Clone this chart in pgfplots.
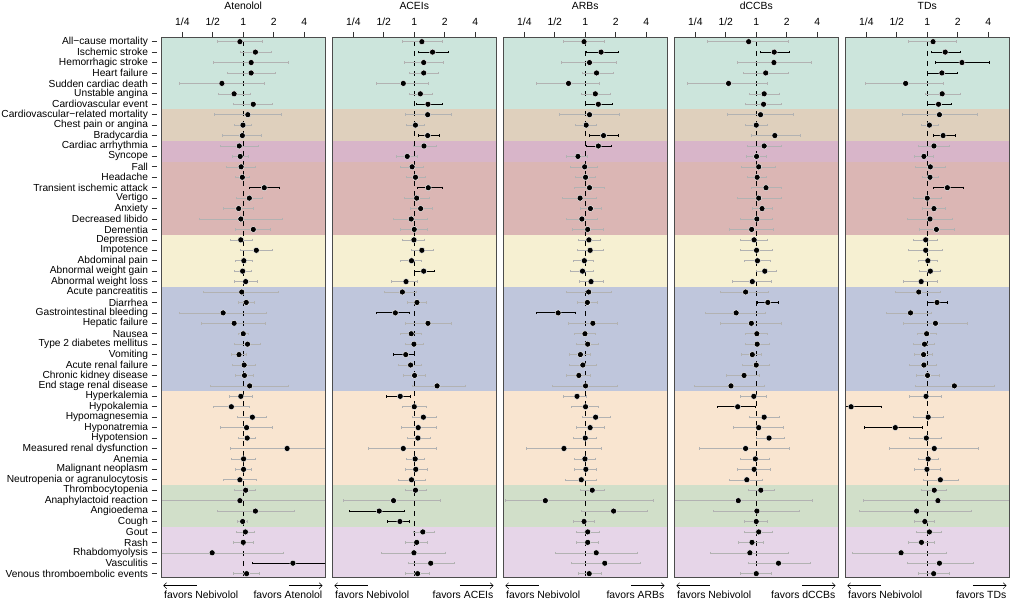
\documentclass[border=0pt]{standalone}
\usepackage{fontspec}
\setmainfont{Liberation Sans}
\usepackage{pgfplots}
\pgfplotsset{compat=1.18}
\usepackage{pgfplotstable}
\usetikzlibrary{arrows.meta}

\definecolor{bgA}{HTML}{CCE5DC}
\definecolor{bgB}{HTML}{DFD0BD}
\definecolor{bgC}{HTML}{D8B5C9}
\definecolor{bgD}{HTML}{DBB6B4}
\definecolor{bgE}{HTML}{F6F0D2}
\definecolor{bgF}{HTML}{BFC6DC}
\definecolor{bgG}{HTML}{F9E5D0}
\definecolor{bgH}{HTML}{D1DFC9}
\definecolor{bgI}{HTML}{E6D5E8}

\newcommand{\lbl}{\fontsize{10.4}{12}\selectfont}
\newcommand{\rowlbl}{\fontsize{10.2}{11}\selectfont}

% columns: row, log2 hazard ratio, lower, upper, significant
\pgfplotstableread{
r hr lo hi s
1 -0.11 -0.85 0.62 0
2 0.40 -0.11 0.91 0
3 0.26 -0.98 1.49 0
4 0.26 -0.51 1.04 0
5 -0.70 -2.11 0.68 0
6 -0.30 -0.83 0.23 0
7 0.33 -0.33 0.95 0
8 0.15 -0.96 1.25 0
9 -0.01 -0.30 0.25 0
10 -0.03 -0.68 0.58 0
11 -0.13 -0.75 0.48 0
12 -0.10 -0.37 0.15 0
13 -0.07 -0.55 0.40 0
14 -0.03 -0.26 0.19 0
15 0.69 0.20 1.18 1
16 0.20 -0.24 0.63 0
17 -0.15 -0.66 0.34 0
18 -0.08 -1.44 1.29 0
19 0.33 -0.25 0.90 0
20 -0.08 -0.43 0.28 0
21 0.43 -0.11 0.96 0
22 0.02 -0.26 0.31 0
23 -0.02 -0.31 0.26 0
24 0.08 -0.31 0.45 0
25 -0.05 -1.30 1.16 0
26 0.10 -0.17 0.35 0
27 -0.66 -2.11 0.77 0
28 -0.30 -1.37 0.73 0
29 0.00 -0.15 0.16 0
30 0.14 -0.28 0.56 0
31 -0.14 -0.40 0.11 0
32 0.03 -0.37 0.40 0
33 0.04 -0.27 0.34 0
34 0.21 -1.09 1.49 0
35 -0.08 -0.47 0.31 0
36 -0.39 -0.98 0.19 0
37 0.30 -0.20 0.77 0
38 0.11 -0.75 0.95 0
39 0.13 -0.15 0.40 0
40 1.44 -0.44 2.90 0
41 0.01 -0.39 0.40 0
42 0.01 -0.25 0.27 0
43 -0.11 -0.66 0.44 0
44 0.08 -0.31 0.40 0
45 -0.11 -2.90 2.90 0
46 0.40 -0.85 1.66 0
47 -0.02 -0.19 0.14 0
48 0.07 -0.24 0.37 0
49 0.00 -0.33 0.32 0
50 -1.02 -2.90 1.30 0
51 1.63 0.30 2.90 1
52 0.11 -0.33 0.54 0
}\tabA

\pgfplotstableread{
r hr lo hi s
1 0.25 -0.40 0.91 0
2 0.60 0.14 1.13 1
3 0.31 -0.33 0.95 0
4 0.31 -0.15 0.78 0
5 -0.36 -1.26 0.47 0
6 0.20 -0.17 0.60 0
7 0.45 0.08 0.91 1
8 0.44 -0.30 1.22 0
9 0.04 -0.25 0.34 0
10 0.44 0.13 0.83 1
11 0.32 -0.04 0.71 0
12 -0.23 -0.58 0.11 0
13 -0.07 -0.45 0.30 0
14 0.04 -0.25 0.35 0
15 0.46 0.09 0.91 1
16 0.08 -0.32 0.49 0
17 0.21 -0.12 0.58 0
18 -0.10 -0.69 0.44 0
19 0.00 -0.45 0.42 0
20 -0.01 -0.38 0.32 0
21 0.25 -0.11 0.64 0
22 -0.09 -0.45 0.23 0
23 0.31 0.01 0.67 1
24 -0.27 -0.75 0.10 0
25 -0.39 -0.97 0.08 0
26 0.09 -0.22 0.38 0
27 -0.62 -1.23 -0.15 1
28 0.45 -0.28 1.20 0
29 -0.10 -0.45 0.23 0
30 -0.01 -0.31 0.30 0
31 -0.28 -0.68 -0.01 1
32 -0.12 -0.51 0.23 0
33 0.01 -0.36 0.36 0
34 0.75 -0.05 1.69 0
35 -0.46 -0.90 -0.12 1
36 0.00 -0.40 0.38 0
37 0.30 -0.08 0.71 0
38 0.13 -0.44 0.71 0
39 0.12 -0.24 0.51 0
40 -0.36 -1.50 0.71 0
41 0.03 -0.26 0.34 0
42 0.05 -0.28 0.42 0
43 -0.09 -0.54 0.36 0
44 0.04 -0.30 0.40 0
45 -0.68 -2.32 0.87 0
46 -1.15 -2.13 -0.31 1
47 -0.47 -0.87 -0.15 1
48 0.28 -0.03 0.66 0
49 0.08 -0.28 0.42 0
50 -0.01 -1.09 1.03 0
51 0.54 -0.20 1.33 0
52 0.11 -0.30 0.50 0
}\tabC

\pgfplotstableread{
r hr lo hi s
1 -0.04 -0.73 0.61 0
2 0.52 0.04 1.08 1
3 0.14 -0.78 1.03 0
4 0.37 -0.11 0.92 0
5 -0.55 -1.62 0.45 0
6 0.33 -0.14 0.81 0
7 0.43 0.01 0.90 1
8 0.14 -0.85 1.13 0
9 0.03 -0.32 0.35 0
10 0.60 0.14 1.09 1
11 0.43 0.05 0.86 1
12 -0.24 -0.63 0.07 0
13 -0.02 -0.48 0.40 0
14 0.01 -0.33 0.34 0
15 0.14 -0.35 0.62 0
16 -0.17 -0.74 0.36 0
17 0.17 -0.15 0.51 0
18 -0.11 -0.63 0.38 0
19 0.08 -0.42 0.58 0
20 0.12 -0.24 0.50 0
21 0.16 -0.25 0.60 0
22 -0.03 -0.38 0.27 0
23 -0.09 -0.49 0.26 0
24 0.19 -0.19 0.59 0
25 0.11 -0.63 0.86 0
26 0.07 -0.27 0.40 0
27 -0.89 -1.61 -0.31 1
28 0.25 -0.57 1.05 0
29 -0.01 -0.35 0.32 0
30 0.08 -0.28 0.43 0
31 -0.16 -0.52 0.16 0
32 -0.08 -0.52 0.35 0
33 -0.21 -0.61 0.15 0
34 0.01 -1.07 1.06 0
35 -0.27 -0.71 0.02 0
36 0.01 -0.45 0.44 0
37 0.34 -0.09 0.83 0
38 0.16 -0.31 0.64 0
39 0.00 -0.38 0.35 0
40 -0.70 -1.93 0.51 0
41 -0.01 -0.36 0.32 0
42 0.02 -0.35 0.35 0
43 -0.13 -0.67 0.36 0
44 0.23 -0.17 0.64 0
45 -1.31 -2.62 2.22 0
46 0.93 -0.14 2.05 0
47 -0.04 -0.40 0.28 0
48 0.08 -0.28 0.45 0
49 0.08 -0.28 0.44 0
50 0.36 -0.98 1.71 0
51 0.64 -0.46 1.80 0
52 0.13 -0.24 0.51 0
}\tabR

\pgfplotstableread{
r hr lo hi s
1 -0.25 -1.60 1.05 0
2 0.59 0.13 1.09 1
3 0.58 -0.61 1.81 0
4 0.31 -0.42 1.05 0
5 -0.91 -2.28 0.37 0
6 0.26 -0.23 0.77 0
7 0.24 -0.35 0.83 0
8 0.14 -0.94 1.23 0
9 0.00 -0.37 0.35 0
10 0.61 -0.15 1.43 0
11 0.26 -0.28 0.81 0
12 0.01 -0.34 0.32 0
13 0.08 -0.49 0.61 0
14 0.03 -0.28 0.33 0
15 0.32 -0.17 0.82 0
16 0.08 -0.63 0.81 0
17 0.19 -0.13 0.54 0
18 0.02 -0.52 0.54 0
19 -0.15 -0.89 0.55 0
20 -0.07 -0.52 0.35 0
21 0.01 -0.52 0.52 0
22 0.04 -0.40 0.46 0
23 0.28 -0.01 0.67 0
24 -0.13 -0.78 0.48 0
25 -0.35 -1.18 0.39 0
26 0.38 0.03 0.72 1
27 -0.66 -1.68 0.30 0
28 -0.16 -1.18 0.81 0
29 0.02 -0.35 0.35 0
30 0.03 -0.37 0.42 0
31 -0.13 -0.49 0.17 0
32 0.00 -0.46 0.42 0
33 -0.40 -0.97 0.11 0
34 -0.83 -2.02 0.27 0
35 -0.08 -0.52 0.32 0
36 -0.61 -1.29 -0.04 1
37 0.26 -0.23 0.77 0
38 0.08 -0.75 0.89 0
39 0.42 0.00 0.92 0
40 -0.35 -1.86 1.08 0
41 -0.03 -0.52 0.43 0
42 -0.07 -0.63 0.46 0
43 -0.31 -0.89 0.20 0
44 0.15 -0.27 0.58 0
45 -0.59 -2.90 1.83 0
46 0.02 -1.40 1.42 0
47 0.00 -0.40 0.37 0
48 0.08 -0.39 0.54 0
49 -0.14 -0.58 0.24 0
50 -0.21 -1.50 1.04 0
51 0.73 -0.26 1.78 0
52 0.00 -0.51 0.50 0
}\tabD

\pgfplotstableread{
r hr lo hi s
1 0.19 -0.61 0.95 0
2 0.59 0.15 1.09 1
3 1.14 0.28 2.05 1
4 0.48 0.00 0.99 1
5 -0.71 -2.04 0.54 0
6 0.49 -0.05 1.07 0
7 0.37 0.02 0.78 1
8 0.40 -0.81 1.63 0
9 0.07 -0.19 0.35 0
10 0.52 0.19 0.92 1
11 0.22 -0.30 0.73 0
12 -0.11 -0.44 0.19 0
13 0.10 -0.40 0.60 0
14 0.09 -0.17 0.35 0
15 0.66 0.20 1.19 1
16 0.00 -0.47 0.45 0
17 0.22 -0.15 0.59 0
18 0.09 -0.67 0.83 0
19 0.30 -0.27 0.90 0
20 -0.05 -0.46 0.32 0
21 -0.05 -0.61 0.49 0
22 0.02 -0.30 0.34 0
23 0.10 -0.25 0.43 0
24 -0.20 -0.78 0.34 0
25 -0.28 -1.04 0.44 0
26 0.32 0.00 0.67 1
27 -0.55 -1.33 0.14 0
28 0.27 -0.78 1.30 0
29 -0.02 -0.34 0.30 0
30 -0.09 -0.45 0.23 0
31 -0.12 -0.43 0.15 0
32 -0.11 -0.58 0.31 0
33 0.01 -0.37 0.38 0
34 0.89 -0.39 2.20 0
35 -0.04 -0.58 0.46 0
36 -2.50 -2.90 -1.51 1
37 0.03 -0.47 0.51 0
38 -1.05 -2.07 -0.16 1
39 -0.03 -0.58 0.47 0
40 0.23 -1.25 1.69 0
41 0.03 -0.31 0.35 0
42 -0.01 -0.43 0.42 0
43 0.43 -0.14 1.03 0
44 0.23 -0.19 0.64 0
45 0.35 -2.09 2.90 0
46 -0.35 -2.23 1.46 0
47 -0.08 -0.42 0.23 0
48 0.07 -0.35 0.47 0
49 -0.19 -0.62 0.22 0
50 -0.86 -2.45 0.63 0
51 0.40 -0.67 1.51 0
52 0.21 -0.31 0.73 0
}\tabT

\pgfplotsset{
  panel/.style={
    scale only axis, width=164.5pt, height=540pt,
    xmin=-2.7, xmax=2.7, ymin=0.58, ymax=52.35, y dir=reverse,
    xtick={-2,-1,0,1,2}, xticklabels={1/4,1/2,1,2,4},
    xtick pos=right, xticklabel pos=right,
    ytick=\empty,
    tick align=outside, major tick length=5.5pt,
    tick style={color=black!80, line width=0.7pt},
    axis line style={color=black!70, line width=0.8pt},
    tick label style={font=\lbl},
    xticklabel style={yshift=3pt},
    axis on top, clip mode=individual,
  },
  rows/.style={
    ytick={1,...,52}, ytick pos=left,
    ytick style={xshift=-4pt},
    yticklabel style={xshift=-4pt, font=\rowlbl},
    yticklabels={All−cause mortality, Ischemic stroke, Hemorrhagic stroke,
      Heart failure, Sudden cardiac death, Unstable angina, Cardiovascular event,
      Cardiovascular−related mortality, Chest pain or angina, Bradycardia,
      Cardiac arrhythmia, Syncope, Fall, Headache, Transient ischemic attack,
      Vertigo, Anxiety, Decreased libido, Dementia, Depression, Impotence,
      Abdominal pain, Abnormal weight gain, Abnormal weight loss,
      Acute pancreatitis, Diarrhea, Gastrointestinal bleeding, Hepatic failure,
      Nausea, Type 2 diabetes mellitus, Vomiting, Acute renal failure,
      Chronic kidney disease, End stage renal disease, Hyperkalemia,
      Hypokalemia, Hypomagnesemia, Hyponatremia, Hypotension,
      Measured renal dysfunction, Anemia, Malignant neoplasm,
      Neutropenia or agranulocytosis, Thrombocytopenia, Anaphylactoid reaction,
      Angioedema, Cough, Gout, Rash, Rhabdomyolysis, Vasculitis,
      Venous thromboembolic events},
  },
  ci/.style={only marks, mark=none,
    error bars/x dir=both, error bars/x explicit,
    error bars/error mark=|},
}

\newcommand{\band}[3]{\addplot[draw=none, fill=#1] coordinates {(-3,#2) (3,#2) (3,#3) (-3,#3)} -- cycle;}

\newcommand{\series}[1]{%
  \addplot[ci, restrict expr to domain={\thisrow{s}}{0:0},
    error bars/error bar style={black!30, line width=0.55pt},
    error bars/error mark options={black!30, line width=0.55pt, mark size=1.2pt}]
    table[x=hr, y=r, x error plus expr=\thisrow{hi}-\thisrow{hr},
      x error minus expr=\thisrow{hr}-\thisrow{lo}] {#1};
  \addplot[ci, restrict expr to domain={\thisrow{s}}{1:1},
    error bars/error bar style={black, line width=0.9pt},
    error bars/error mark options={black, line width=0.9pt, mark size=1.2pt}]
    table[x=hr, y=r, x error plus expr=\thisrow{hi}-\thisrow{hr},
      x error minus expr=\thisrow{hr}-\thisrow{lo}] {#1};
  \addplot[only marks, mark=*, mark size=3pt,
    mark options={fill=black, draw=white, line width=0.4pt}]
    table[x=hr, y=r] {#1};
}

% #1 x position, #2 title, #3 table, #4 extra options
\newcommand{\panel}[4]{%
  \begin{axis}[panel, at={(#1pt,0pt)}, anchor=south west, name=p#2, #4]
    \band{bgA}{0}{7.5}
    \band{bgB}{7.5}{10.5}
    \band{bgC}{10.5}{12.5}
    \band{bgD}{12.5}{19.5}
    \band{bgE}{19.5}{24.5}
    \band{bgF}{24.5}{34.5}
    \band{bgG}{34.5}{43.5}
    \band{bgH}{43.5}{47.5}
    \band{bgI}{47.5}{53}
    \addplot[black, dash pattern=on 5pt off 5pt, line width=0.9pt] coordinates {(0,0) (0,53)};
    \series{#3}
  \end{axis}
  \node[anchor=base, font=\lbl, inner sep=0pt, yshift=27.8pt] at (p#2.north) {#2};
  \draw[{Straight Barb[length=3pt,width=6pt]}-, line width=0.5pt]
    ([xshift=2.3pt,yshift=-8.4pt]p#2.south west) -- ++(34pt,0);
  \draw[-{Straight Barb[length=3pt,width=6pt]}, line width=0.5pt]
    ([xshift=-36.7pt,yshift=-8.4pt]p#2.south east) -- ++(33.7pt,0);
  \node[anchor=base west, font=\lbl, inner sep=0pt] at ([xshift=3pt,yshift=-21.2pt]p#2.south west) {favors Nebivolol};
  \node[anchor=base east, font=\lbl, inner sep=0pt] at ([xshift=-3pt,yshift=-21.2pt]p#2.south east) {favors #2};
}

\begin{document}
\begin{tikzpicture}[x=1pt, y=1pt]
\path[use as bounding box] (0,-23.7) rectangle (1011,577.3);
\panel{161}{Atenolol}{\tabA}{rows}
\panel{332}{ACEIs}{\tabC}{}
\panel{503}{ARBs}{\tabR}{}
\panel{674}{dCCBs}{\tabD}{}
\panel{845}{TDs}{\tabT}{}
\end{tikzpicture}
\end{document}
